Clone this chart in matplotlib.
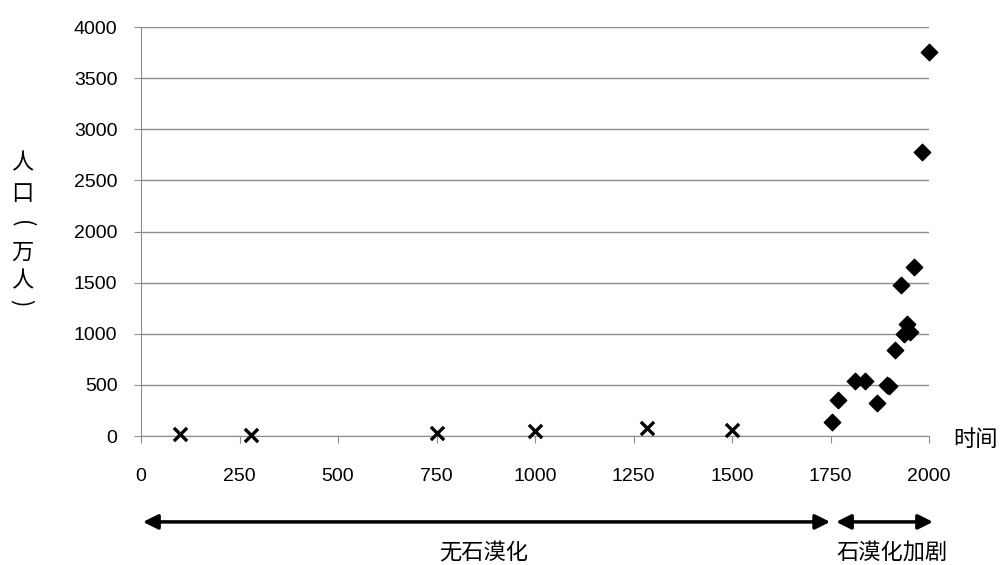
import matplotlib.pyplot as plt

# 无石漠化时期（×）
yr_a = [100, 280, 750, 1000, 1283, 1500]
pop_a = [20, 5, 25, 45, 75, 60]

# 石漠化加剧时期（◆）
yr_b = [1754, 1770, 1813, 1838, 1867, 1893, 1899, 1913, 1930, 1937,
        1945, 1952, 1962, 1982, 2000]
pop_b = [140, 352, 535, 541, 320, 496, 489, 838, 1477, 998,
         1095, 1014, 1650, 2780, 3752]

xticks = [0, 250, 500, 750, 1000, 1250, 1500, 1750, 2000]
yticks = [0, 500, 1000, 1500, 2000, 2500, 3000, 3500, 4000]

plt.rcParams['font.family'] = ['Liberation Sans', 'Noto Sans CJK SC', 'DejaVu Sans']
cjk = ['Noto Sans CJK SC', 'DejaVu Sans']
grey = '#8c8c8c'

fig = plt.figure(figsize=(10.06, 5.65), dpi=100)
ax = fig.add_axes([0.1402, 0.2283, 0.7833, 0.7239])

ax.scatter(yr_a, pop_a, marker='x', s=90, color='black', linewidths=2.4,
           zorder=3, clip_on=False)
ax.scatter(yr_b, pop_b, marker='D', s=70, color='black', zorder=3, clip_on=False)

ax.set_xlim(0, 2000)
ax.set_ylim(0, 4000)
ax.set_xticks(xticks)
ax.set_yticks(yticks)
ax.tick_params(labelsize=14, color=grey, length=5)
ax.tick_params(axis='x', pad=18)
ax.tick_params(axis='y', pad=12)
ax.grid(axis='y', color=grey, linewidth=1)
ax.set_axisbelow(True)
for s in ['top', 'right']:
    ax.spines[s].set_visible(False)
for s in ['left', 'bottom']:
    ax.spines[s].set_color(grey)

# 纵轴标题（竖排）
for ch, ypx, rot in [('人', 163, 0), ('口', 193, 0), ('(', 224, -90),
                     ('万', 252, 0), ('人', 281, 0), (')', 303, -90)]:
    fig.text(22 / 1006, 1 - ypx / 565, ch, family=cjk, fontsize=16,
             ha='center', va='center', rotation=rot)
fig.text(953 / 1006, 1 - 440 / 565, '时间', family=cjk, fontsize=16,
         ha='left', va='center')

# 下方的时期箭头
tr = ax.get_xaxis_transform()
arrow = dict(arrowstyle='<|-|>', lw=2.5, color='black', mutation_scale=22,
             shrinkA=0, shrinkB=0)
ax.annotate('', xy=(1749, -0.21), xytext=(5, -0.21), xycoords=tr, textcoords=tr,
            arrowprops=arrow, annotation_clip=False)
ax.annotate('', xy=(2010, -0.21), xytext=(1764, -0.21), xycoords=tr, textcoords=tr,
            arrowprops=arrow, annotation_clip=False)
ax.text(870, -0.285, '无石漠化', transform=tr, family=cjk, fontsize=16,
        ha='center', va='center')
ax.text(1905, -0.285, '石漠化加剧', transform=tr, family=cjk, fontsize=16,
        ha='center', va='center')

fig.savefig('out.png', dpi=100)
